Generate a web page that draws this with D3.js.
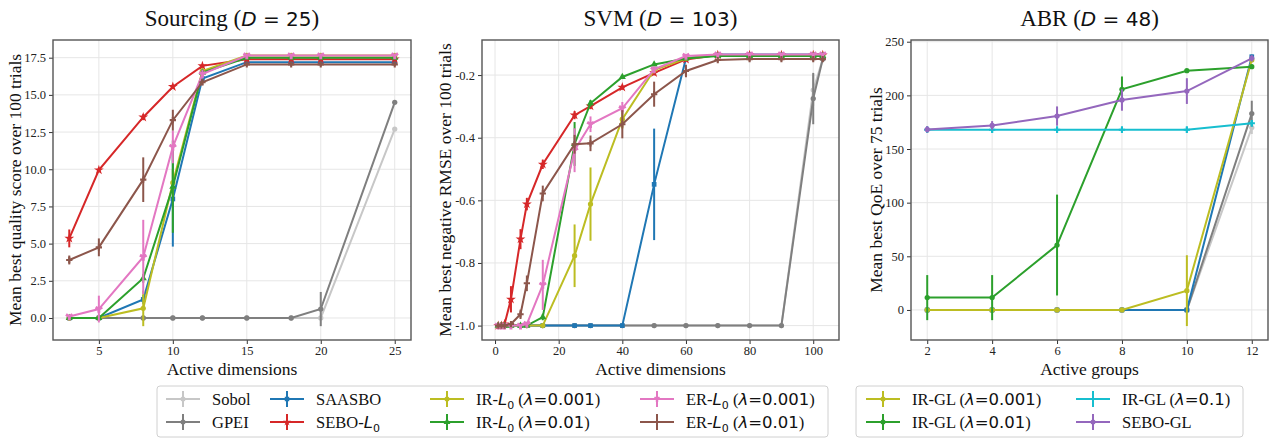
<!DOCTYPE html>
<html><head><meta charset="utf-8">
<script src="https://cdn.jsdelivr.net/npm/d3@7"></script>
<style>body{margin:0;background:#fff}svg{display:block}</style>
</head><body>
<script>
// ---------- DATA ----------
const x1 = [3,5,8,10,12,15,18,20,25];
const sobol1 = [0,0,0,0,0,0,0,0,12.7];
const sobol1Err = [0,0,0,0,0,0,0,0,0.1];
const gpei1 = [0,0,0,0,0,0,0,0.6,14.5];
const gpei1Err = [0,0,0,0,0,0,0,1.15,0.1];
const saasbo1 = [0,0,1.25,8.0,16.1,17.2,17.2,17.2,17.2];
const saasbo1Err = [0.05,0.05,0.3,3.2,0.2,0.1,0.1,0.1,0.1];
const sebo1 = [5.35,9.95,13.5,15.55,16.95,17.4,17.4,17.4,17.4];
const sebo1Err = [0.6,0.15,0.2,0.15,0.1,0.1,0.1,0.1,0.1];
const irL001_1 = [0,0,0.65,9.1,16.6,17.65,17.65,17.65,17.65];
const irL001_1Err = [0,0,1.2,0.9,0.2,0.05,0.05,0.05,0.05];
const irL01_1 = [0,0,2.67,8.83,16.5,17.5,17.5,17.5,17.5];
const irL01_1Err = [0,0,0.3,3.1,0.2,0.1,0.1,0.1,0.1];
const erL001_1 = [0.1,0.6,4.1,11.5,16.4,17.65,17.65,17.65,17.65];
const erL001_1Err = [0.1,0.9,2.5,1.1,0.3,0.05,0.05,0.05,0.05];
const erL01_1 = [3.9,4.75,9.3,13.3,15.85,17.05,17.05,17.05,17.05];
const erL01_1Err = [0.3,0.6,1.5,0.7,0.2,0.1,0.1,0.1,0.1];

const x2 = [1,2,3,5,8,10,15,25,30,40,50,60,70,80,90,100,103];
const sobol2 = [-1,-1,-1,-1,-1,-1,-1,-1,-1,-1,-1,-1,-1,-1,-1,-0.248,-0.149];
const sobol2Err = [0,0,0,0,0,0,0,0,0,0,0,0,0,0,0,0.05,0.005];
const gpei2 = [-1,-1,-1,-1,-1,-1,-1,-1,-1,-1,-1,-1,-1,-1,-1,-0.275,-0.149];
const gpei2Err = [0,0,0,0,0,0,0,0,0,0,0,0,0,0,0,0.082,0.005];
const saasbo2 = [-1,-1,-1,-1,-1,-1,-1,-1,-1,-1,-0.549,-0.147,-0.134,-0.134,-0.134,-0.134,-0.134];
const saasbo2Err = [0,0,0,0,0,0,0,0.005,0.005,0.005,0.178,0.005,0.004,0.004,0.004,0.004,0.004];
const sebo2 = [-1,-1,-0.995,-0.916,-0.724,-0.612,-0.485,-0.328,-0.299,-0.239,-0.193,-0.15,-0.136,-0.136,-0.136,-0.136,-0.136];
const sebo2Err = [0.005,0.005,0.008,0.042,0.032,0.02,0.015,0.013,0.01,0.008,0.008,0.005,0.004,0.004,0.004,0.004,0.004];
const irL001_2 = [-1,-1,-1,-1,-1,-1,-1,-0.777,-0.612,-0.341,-0.184,-0.147,-0.136,-0.136,-0.136,-0.136,-0.136];
const irL001_2Err = [0,0,0,0,0,0,0.005,0.1,0.117,0.03,0.01,0.005,0.004,0.004,0.004,0.004,0.004];
const irL01_2 = [-1,-1,-1,-1,-1,-1,-0.973,-0.42,-0.29,-0.206,-0.166,-0.147,-0.139,-0.139,-0.139,-0.139,-0.139];
const irL01_2Err = [0,0,0,0,0,0,0.01,0.07,0.01,0.006,0.005,0.004,0.004,0.004,0.004,0.004,0.004];
const erL001_2 = [-1,-1,-1,-1,-1,-0.995,-0.87,-0.44,-0.357,-0.306,-0.182,-0.139,-0.134,-0.134,-0.134,-0.134,-0.134];
const erL001_2Err = [0,0,0,0,0,0.005,0.08,0.07,0.025,0.02,0.01,0.005,0.004,0.004,0.004,0.004,0.004];
const erL01_2 = [-1,-1,-1,-0.995,-0.964,-0.865,-0.578,-0.421,-0.418,-0.357,-0.261,-0.187,-0.152,-0.149,-0.149,-0.149,-0.149];
const erL01_2Err = [0.005,0.005,0.005,0.008,0.015,0.025,0.025,0.03,0.025,0.045,0.04,0.02,0.005,0.005,0.005,0.005,0.005];

const x3 = [2,4,6,8,10,12];
const sobol3 = [0,0,0,0,0,170];
const sobol3Err = [0,0,0,0,0,6];
const gpei3 = [0,0,0,0,0,183];
const gpei3Err = [0,0,0,0,0,12];
const saasbo3 = [0,0,0,0,0,236];
const saasbo3Err = [0,0,0,0,0,2];
const irGL001 = [0,0,0,0,18,233];
const irGL001Err = [0,0,0,0,33,2];
const irGL01 = [11.5,11.5,60.5,205.6,223,226.7];
const irGL01Err = [21,21,47,12,1,2];
const irGL1 = [168,168,168,168,168,174];
const irGL1Err = [3,3,3,3,3,3];
const seboGL = [168.3,172,180.7,195.7,204,234.5];
const seboGLErr = [3,4,9,10,12,3];

const ticksX1 = [5,10,15,20,25];
const ticksY1 = [0,2.5,5,7.5,10,12.5,15,17.5];
const ticksX2 = [0,20,40,60,80,100];
const ticksY2 = [-1.0,-0.8,-0.6,-0.4,-0.2];
const ticksX3 = [2,4,6,8,10,12];
const ticksY3 = [0,50,100,150,200,250];

// ---------- STYLE ----------
const C = {sobol:"#c7c7c7", gpei:"#7f7f7f", saasbo:"#1f77b4", sebo:"#d62728",
  ir001:"#bcbd22", ir01:"#2ca02c", er001:"#e377c2", er01:"#8c564b",
  ir1:"#17becf", sebogl:"#9467bd"};
const SYM = {circle:d3.symbolCircle, square:d3.symbolSquare, star:d3.symbolStar,
  tri:d3.symbolTriangle, cross:d3.symbolCross, wye:d3.symbolWye, diamond:d3.symbolDiamond};

const W = 1274, H = 439;
const svg = d3.select("body").append("svg").attr("width",W).attr("height",H)
  .style("font-family","'Liberation Serif','Times New Roman',serif");
svg.append("rect").attr("width",W).attr("height",H).attr("fill","#fff");

const serif = "'Liberation Serif','Times New Roman',serif";
const sans = "'DejaVu Sans',sans-serif";

function panel(o){
  const g = svg.append("g");
  const xs = d3.scaleLinear().domain(o.xd).range([o.l,o.r]);
  const ys = d3.scaleLinear().domain(o.yd).range([o.b,o.t]);
  g.selectAll(".gx").data(o.tx).join("line").attr("x1",d=>xs(d)).attr("x2",d=>xs(d))
    .attr("y1",o.t).attr("y2",o.b).attr("stroke","#e6e6e6").attr("stroke-width",1);
  g.selectAll(".gy").data(o.ty).join("line").attr("y1",d=>ys(d)).attr("y2",d=>ys(d))
    .attr("x1",o.l).attr("x2",o.r).attr("stroke","#e6e6e6").attr("stroke-width",1);
  const ax = g.append("g").attr("transform",`translate(0,${o.b})`)
    .call(d3.axisBottom(xs).tickValues(o.tx).tickFormat(o.fx).tickSizeOuter(0).tickSize(4).tickPadding(2));
  const ay = g.append("g").attr("transform",`translate(${o.l},0)`)
    .call(d3.axisLeft(ys).tickValues(o.ty).tickFormat(o.fy).tickSizeOuter(0).tickSize(4).tickPadding(3));
  [ax,ay].forEach(a=>{a.select(".domain").remove();
    a.selectAll("text").attr("font-family",serif).attr("font-size",12.5).attr("fill","#222");
    a.selectAll("line").attr("stroke","#333");});
  const cg = g.append("g");
  o.series.forEach(s=>{
    const pts = o.x.map((xv,i)=>({x:xv,y:s.v[i],e:s.e[i]}));
    const sg = cg.append("g");
    sg.append("path").datum(pts).attr("fill","none").attr("stroke",s.c).attr("stroke-width",2)
      .attr("d",d3.line().x(d=>xs(d.x)).y(d=>ys(d.y)));
    sg.selectAll(".eb").data(pts.filter(d=>d.e>0)).join("line")
      .attr("x1",d=>xs(d.x)).attr("x2",d=>xs(d.x))
      .attr("y1",d=>ys(d.y-d.e)).attr("y2",d=>ys(d.y+d.e))
      .attr("stroke",s.c).attr("stroke-width",2);
    sg.selectAll(".mk").data(pts).join("path")
      .attr("transform",d=>`translate(${xs(d.x)},${ys(d.y)})`)
      .attr("d",d3.symbol().type(SYM[s.m]).size(s.ms||22)).attr("fill",s.c);
  });
  g.append("rect").attr("x",o.l).attr("y",o.t).attr("width",o.r-o.l).attr("height",o.b-o.t)
    .attr("fill","none").attr("stroke","#555").attr("stroke-width",1.4);
  const tt = g.append("text").attr("x",(o.l+o.r)/2).attr("y",26).attr("text-anchor","middle")
    .attr("font-size",23).attr("fill","#111");
  tt.append("tspan").attr("font-family",serif).text(o.title+" (");
  tt.append("tspan").attr("font-family",sans).attr("font-style","italic").attr("font-size",20).text("D");
  tt.append("tspan").attr("font-family",sans).attr("font-size",20).text(" = "+o.dval);
  tt.append("tspan").attr("font-family",serif).text(")");
  g.append("text").attr("x",(o.l+o.r)/2).attr("y",375).attr("text-anchor","middle")
    .attr("font-size",17.5).attr("fill","#111").text(o.xl);
  g.append("text").attr("transform",`translate(${o.ylx},${(o.t+o.b)/2}) rotate(-90)`)
    .attr("text-anchor","middle").attr("font-size",17.5).attr("fill","#111").text(o.yl);
}

const S1 = (v,e,c,m,ms)=>({v,e,c,m,ms});

panel({l:53,r:411,t:40,b:340,xd:[1.9,26.1],yd:[-1.48,18.69],tx:ticksX1,ty:ticksY1,
  fx:d3.format("d"),fy:d3.format(".1f"),x:x1,title:"Sourcing",dval:"25",
  xl:"Active dimensions",yl:"Mean best quality score over 100 trials",ylx:21,
  series:[S1(sobol1,sobol1Err,C.sobol,"circle"),S1(gpei1,gpei1Err,C.gpei,"circle"),
    S1(saasbo1,saasbo1Err,C.saasbo,"square"),S1(sebo1,sebo1Err,C.sebo,"star",30),
    S1(irL001_1,irL001_1Err,C.ir001,"circle"),S1(irL01_1,irL01_1Err,C.ir01,"tri"),
    S1(erL001_1,erL001_1Err,C.er001,"wye",30),S1(erL01_1,erL01_1Err,C.er01,"cross")]});

panel({l:482,r:839,t:40,b:340,xd:[-4.1,108.1],yd:[-1.046,-0.088],tx:ticksX2,ty:ticksY2,
  fx:d3.format("d"),fy:d=>d3.format(".1f")(d).replace("−","-"),x:x2,title:"SVM",dval:"103",
  xl:"Active dimensions",yl:"Mean best negative RMSE over 100 trials",ylx:451,
  series:[S1(sobol2,sobol2Err,C.sobol,"circle"),S1(gpei2,gpei2Err,C.gpei,"circle"),
    S1(saasbo2,saasbo2Err,C.saasbo,"square"),S1(sebo2,sebo2Err,C.sebo,"star",30),
    S1(irL001_2,irL001_2Err,C.ir001,"circle"),S1(irL01_2,irL01_2Err,C.ir01,"tri"),
    S1(erL001_2,erL001_2Err,C.er001,"wye",30),S1(erL01_2,erL01_2Err,C.er01,"cross")]});

panel({l:911,r:1268,t:40,b:340,xd:[1.5,12.5],yd:[-28,251.6],tx:ticksX3,ty:ticksY3,
  fx:d3.format("d"),fy:d3.format("d"),x:x3,title:"ABR",dval:"48",
  xl:"Active groups",yl:"Mean best QoE over 75 trials",ylx:882,
  series:[S1(sobol3,sobol3Err,C.sobol,"circle"),S1(gpei3,gpei3Err,C.gpei,"circle"),
    S1(saasbo3,saasbo3Err,C.saasbo,"square"),
    S1(irGL001,irGL001Err,C.ir001,"circle"),S1(irGL01,irGL01Err,C.ir01,"circle"),
    S1(irGL1,irGL1Err,C.ir1,"cross"),S1(seboGL,seboGLErr,C.sebogl,"circle")]});

// ---------- LEGENDS ----------
function legendLabel(t, parts){
  parts.forEach(p=>{
    const ts = t.append("tspan").attr("font-family",p.f==="m"?sans:serif).text(p.s);
    if(p.i) ts.attr("font-style","italic");
    if(p.sub) ts.attr("font-size",11).attr("dy",4);
    if(p.up) ts.attr("dy",-4);
  });
}
function lamParts(pre, lam, useL){
  const p = [{s:pre}];
  if(useL){ p.push({s:"L",f:"m",i:1}); p.push({s:"0",f:"m",sub:1}); p.push({s:" (",up:1}); }
  else p.push({s:" ("});
  p.push({s:"λ",f:"m",i:1}); p.push({s:"=",f:"m"}); p.push({s:lam,f:"m"}); p.push({s:")"});
  return p;
}
const legend1 = [
  {c:C.sobol,m:"circle",p:[{s:"Sobol"}]},
  {c:C.gpei,m:"circle",p:[{s:"GPEI"}]},
  {c:C.saasbo,m:"square",p:[{s:"SAASBO"}]},
  {c:C.sebo,m:"star",p:[{s:"SEBO-"},{s:"L",f:"m",i:1},{s:"0",f:"m",sub:1}]},
  {c:C.ir001,m:"circle",p:lamParts("IR-","0.001",true)},
  {c:C.ir01,m:"tri",p:lamParts("IR-","0.01",true)},
  {c:C.er001,m:"wye",p:lamParts("ER-","0.001",true)},
  {c:C.er01,m:"cross",p:lamParts("ER-","0.01",true)}];
const legend2 = [
  {c:C.ir001,m:"circle",p:lamParts("IR-GL","0.001",false)},
  {c:C.ir01,m:"circle",p:lamParts("IR-GL","0.01",false)},
  {c:C.ir1,m:"cross",p:lamParts("IR-GL","0.1",false)},
  {c:C.sebogl,m:"circle",p:[{s:"SEBO-GL"}]}];

function legend(items, x0, y0, w, h, colX){
  const g = svg.append("g");
  g.append("rect").attr("x",x0).attr("y",y0).attr("width",w).attr("height",h).attr("rx",3)
    .attr("fill","#fff").attr("stroke","#d0d0d0").attr("stroke-width",1);
  items.forEach((it,i)=>{
    const col = Math.floor(i/2), row = i%2;
    const cx = colX[col], cy = y0+13+row*23;
    g.append("line").attr("x1",cx).attr("x2",cx+34).attr("y1",cy).attr("y2",cy)
      .attr("stroke",it.c).attr("stroke-width",2);
    g.append("line").attr("x1",cx+17).attr("x2",cx+17).attr("y1",cy-8).attr("y2",cy+8)
      .attr("stroke",it.c).attr("stroke-width",2);
    g.append("path").attr("transform",`translate(${cx+17},${cy})`)
      .attr("d",d3.symbol().type(SYM[it.m]).size(20)).attr("fill",it.c);
    const t = g.append("text").attr("x",cx+46).attr("y",cy+5.5).attr("font-size",16.5).attr("fill","#111");
    legendLabel(t,it.p);
  });
}
legend(legend1,157,386,671,51,[166,270,430,640]);
legend(legend2,856,386,387,51,[866,1076]);
</script>
</body></html>
